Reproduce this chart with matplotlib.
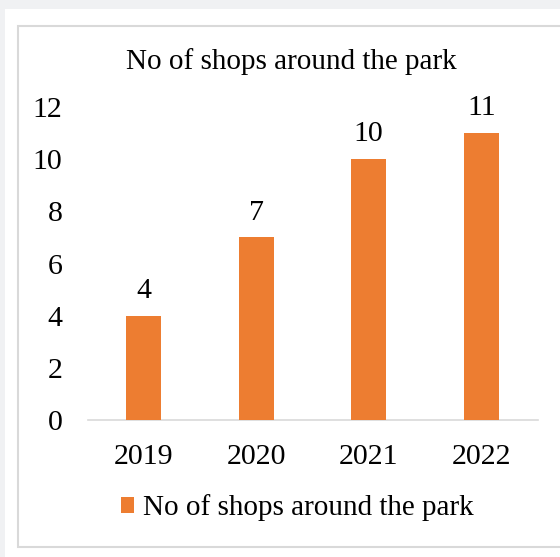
import matplotlib
matplotlib.use("Agg")
import matplotlib.pyplot as plt
from matplotlib.patches import Rectangle

years = ["2019", "2020", "2021", "2022"]
shops = [4, 7, 10, 11]
series_name = "No of shops around the park"
title = "No of shops around the park"

W, H = 560, 557
plt.rcParams['font.family'] = ['Liberation Serif', 'DejaVu Serif']
fig = plt.figure(figsize=(W / 100, H / 100), dpi=100)
fig.patch.set_facecolor('#f0f1f3')

# white page + light chart border
fig.patches.append(Rectangle((5 / W, 0), 1, 1 - 9 / H, transform=fig.transFigure,
                             facecolor='white', edgecolor='none', zorder=-3))
fig.patches.append(Rectangle((18 / W, 1 - 547 / H), 1, (547 - 26) / H, transform=fig.transFigure,
                             facecolor='white', edgecolor='#d9d9d9', linewidth=1.5, zorder=-2))

ax = fig.add_axes([87.5 / W, 1 - 420 / H, 450 / W, (420 - 107) / H])
ax.set_facecolor('none')
x = range(len(years))
bars = ax.bar(x, shops, width=0.31, color='#ed7d31', zorder=3)
for b, v in zip(bars, shops):
    ax.text(b.get_x() + b.get_width() / 2, v + 0.45, str(v), ha='center', va='bottom', fontsize=21.5)

ax.set_xlim(-0.5, len(years) - 0.5)
ax.set_ylim(0, 12)
ax.set_yticks(range(0, 13, 2))
ax.set_xticks(list(x))
ax.set_xticklabels(years)
ax.tick_params(axis='both', length=0, labelsize=21.5)
ax.tick_params(axis='y', pad=18)
ax.tick_params(axis='x', pad=17)
for s in ['top', 'right', 'left']:
    ax.spines[s].set_visible(False)
ax.spines['bottom'].set_color('#d9d9d9')
ax.spines['bottom'].set_linewidth(1.2)

fig.text(291 / W, 1 - 62 / H, title, ha='center', va='center', fontsize=21)

leg = fig.legend([bars[0]], [series_name], loc='center', bbox_to_anchor=(297 / W, 1 - 508 / H),
                 frameon=False, fontsize=21, handlelength=0.45, handleheight=0.45, handletextpad=0.3)

fig.savefig("out.png", dpi=100, facecolor=fig.get_facecolor())
